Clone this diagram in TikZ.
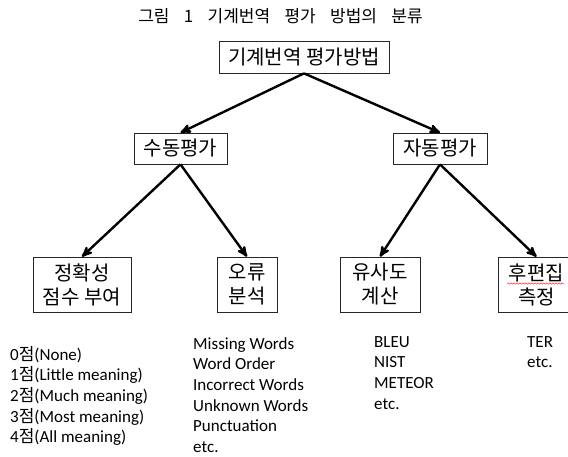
\documentclass[tikz,border=0pt]{standalone}
\usepackage{fontspec}
\setmainfont{Carlito}
\newfontfamily\kr{Noto Sans CJK KR}
\newcommand{\gap}{\hspace{10.5pt} }
\usetikzlibrary{arrows,decorations.pathmorphing}

\begin{document}
\begin{tikzpicture}[x=1pt,y=-1pt,->,>=stealth',line width=2.4pt,
  box node/.style={draw=black!85,line width=0.7pt,align=center,inner sep=0pt,
    font=\kr\fontsize{20}{24}\selectfont},
  list node/.style={anchor=base west,align=left,inner sep=0pt,
    font=\fontsize{17}{20.7}\selectfont}]

 \useasboundingbox (0,0) rectangle (568,456);

 \node[font=\kr\fontsize{17}{20}\selectfont] (title) at (280.5,16) {그림\gap 1\gap 기계번역\gap 평가\gap 방법의\gap 분류};

 \node[box node,minimum width=170pt,minimum height=32pt] (root) at (304,57) {기계번역 평가방법};
 \node[box node,minimum width=93pt,minimum height=31pt] (manual) at (180.5,148.5) {수동평가};
 \node[box node,minimum width=94pt,minimum height=31pt] (auto) at (440,148.5) {자동평가};

 \node[box node,minimum width=98pt,minimum height=55pt] (score) at (82,284.5) {정확성\\점수 부여};
 \node[box node,minimum width=60pt,minimum height=55pt] (error) at (247,284.5) {오류\\분석};
 \node[box node,minimum width=80pt,minimum height=55pt] (sim) at (380,284.5) {유사도\\계산};
 \node[box node,minimum width=77pt,minimum height=55pt] (post) at (536.5,284.5) {후편집\\측정};

 % spell check mark
 \coordinate (sq1) at (507,283.5);
 \coordinate (sq2) at (564,283.5);
 \draw[-,red!80,line width=0.5pt,decorate,decoration={snake,amplitude=0.7pt,segment length=3pt}] (sq1) -- (sq2);

 \node[list node] (scores) at (9,442.8) {0{\kr 점}(None)\\1{\kr 점}(Little meaning)\\2{\kr 점}(Much meaning)\\3{\kr 점}(Most meaning)\\4{\kr 점}(All meaning)};
 \node[list node] (errors) at (192,452.5) {Missing Words\\Word Order\\Incorrect Words\\Unknown Words\\Punctuation\\etc.};
 \node[list node] (metrics) at (373,409.1) {BLEU\\NIST\\METEOR\\etc.};
 \node[list node] (ter) at (526,367.7) {TER\\etc.};

 \path
    (root.south)	edge (manual.north)
    (root.south)	edge (auto.north)
    (manual.south)	edge (score.north)
    (manual.south)	edge (error.north)
    (auto.south)	edge (sim.north)
    (auto.south)	edge (post.north);

\end{tikzpicture}
\end{document}
